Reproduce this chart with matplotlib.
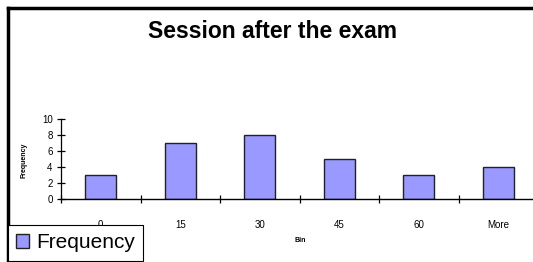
import numpy as np
import matplotlib.pyplot as plt
from matplotlib.lines import Line2D

### Histogram of session times after the exam
bins = ["0", "15", "30", "45", "60", "More"]
frequency = [3, 7, 8, 5, 3, 4]
yticks = [0, 2, 4, 6, 8, 10]

plt.rcParams['font.family'] = ['Liberation Sans', 'DejaVu Sans']

W, H = 533, 262
fig = plt.figure(figsize=(W / 100, H / 100), dpi=100)

# axes placed in pixel terms (x axis runs past the right edge like the original)
left, right, bottom, top = 61, 538, 199, 119
ax = fig.add_axes([left / W, 1 - bottom / H, (right - left) / W, (bottom - top) / H])

x = np.arange(len(bins))
ax.bar(x, frequency, width=0.39, color="#9999ff", edgecolor="#222222", linewidth=1.0,
       label="Frequency")

ax.set_xlim(-0.5, len(bins) - 0.5)
ax.set_ylim(0, 10)
ax.set_yticks(yticks)
ax.set_xticks(x)
ax.set_xticklabels(bins)
ax.set_xticks(np.arange(len(bins) + 1) - 0.5, minor=True)
ax.tick_params(axis="x", which="major", length=0, pad=15, labelsize=7)
ax.tick_params(axis="x", which="minor", direction="inout", length=6, width=0.9)
ax.tick_params(axis="y", direction="inout", length=6, width=0.9, pad=3, labelsize=7)
for s in ["top", "right"]:
    ax.spines[s].set_visible(False)
ax.spines["left"].set_linewidth(0.9)
ax.spines["bottom"].set_linewidth(1.0)
ax.patch.set_alpha(0)

fig.text(273 / W, 1 - 32 / H, "Session after the exam", ha="center", va="center",
         fontsize=16.5, fontweight="bold")
fig.text(24 / W, 1 - 160 / H, "Frequency", rotation=90, ha="center", va="center",
         fontsize=5, fontweight="bold")
fig.text(300 / W, 1 - 241 / H, "Bin", ha="center", va="center",
         fontsize=5, fontweight="bold")

# frame lines at top and left
fig.add_artist(Line2D([8 / W, 1], [1 - 8 / H, 1 - 8 / H], color="black", lw=2.5))
fig.add_artist(Line2D([8 / W, 8 / W], [0, 1 - 8 / H], color="black", lw=2.5))

leg = fig.legend(loc="upper left", bbox_to_anchor=(8 / W, 1 - 225 / H), borderaxespad=0,
                 fontsize=15, fancybox=False, edgecolor="black", framealpha=1,
                 handlelength=0.6, handleheight=0.6, handletextpad=0.35, borderpad=0.4)
leg.get_frame().set_linewidth(0.8)

fig.savefig("out.png", dpi=100)
